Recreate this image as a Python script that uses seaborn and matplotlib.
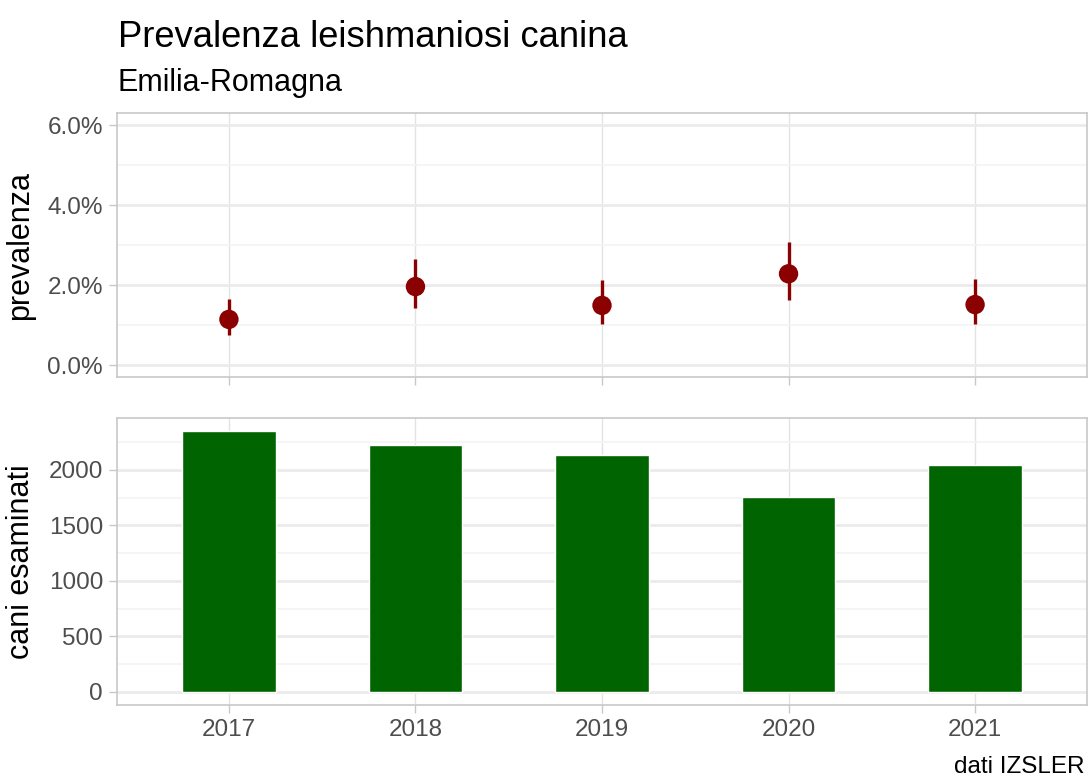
import matplotlib
matplotlib.use("Agg")
import matplotlib.pyplot as plt
import matplotlib.ticker as mticker
import seaborn as sns
import pandas as pd
import numpy as np

years = ["2017", "2018", "2019", "2020", "2021"]
prevalence = [0.0114, 0.0196, 0.0149, 0.0228, 0.0151]
prev_low = [0.0074, 0.0143, 0.0102, 0.0162, 0.0102]
prev_high = [0.0165, 0.0264, 0.0213, 0.0308, 0.0214]
examined = [2350, 2222, 2130, 1756, 2044]

df = pd.DataFrame({"anno": years, "prev": prevalence, "lo": prev_low,
                   "hi": prev_high, "n": examined})

sns.set_theme(style="whitegrid")
plt.rcParams["font.family"] = ["Liberation Sans", "DejaVu Sans"]

W, H = 1088, 778
fig = plt.figure(figsize=(W / 100, H / 100), dpi=100)

def rect(l, t, r, b):
    return [l / W, 1 - b / H, (r - l) / W, (b - t) / H]

ax1 = fig.add_axes(rect(117, 113, 1087, 377))
ax2 = fig.add_axes(rect(117, 418, 1087, 705))

grid_major = "#EBEBEB"
border = "#C8C8C8"
tickc = "#4D4D4D"
TICK_FS = 17.5
AXT_FS = 22

for ax in (ax1, ax2):
    ax.set_facecolor("white")
    for s in ax.spines.values():
        s.set_color(border)
        s.set_linewidth(1.2)

# Top panel
xpos = np.arange(len(years))
ax1.vlines(xpos, df["lo"], df["hi"], color="#8B0000", linewidth=2.4, zorder=3)
sns.scatterplot(data=df, x=xpos, y="prev", ax=ax1, color="#8B0000", s=195,
                edgecolor="none", zorder=4, legend=False)
ax1.set_xlim(-0.6, 4.6)
ax1.set_ylim(-0.003, 0.063)
ax1.set_yticks([0, 0.02, 0.04, 0.06])
ax1.yaxis.set_major_formatter(mticker.FuncFormatter(lambda v, p: f"{v*100:.1f}%"))
ax1.set_yticks([0.01, 0.03, 0.05], minor=True)
ax1.set_xticks(xpos)
ax1.set_xticklabels([])
ax1.set_ylabel("prevalenza", fontsize=AXT_FS, color="black", labelpad=9)
ax1.set_xlabel("")

# Bottom panel
sns.barplot(data=df, x="anno", y="n", ax=ax2, color="#006400", saturation=1,
            width=0.5, zorder=3)
ax2.set_xlim(-0.6, 4.6)
ax2.set_ylim(-117.5, 2467.5)
ax2.set_yticks([0, 500, 1000, 1500, 2000])
ax2.set_yticks([250, 750, 1250, 1750, 2250], minor=True)
ax2.set_ylabel("cani esaminati", fontsize=AXT_FS, color="black", labelpad=9)
ax2.set_xlabel("")

for ax in (ax1, ax2):
    ax.grid(which="major", axis="y", color=grid_major, linewidth=2.0, zorder=0)
    ax.grid(which="minor", axis="y", color="#F4F4F4", linewidth=1.2, zorder=0)
    ax.grid(which="major", axis="x", color="#E3E3E3", linewidth=1.0, zorder=0)
    ax.set_axisbelow(True)
    ax.tick_params(axis="both", which="major", length=6, width=1.0, color=border,
                   labelsize=TICK_FS, labelcolor=tickc, pad=4, left=True, bottom=True)
    ax.tick_params(axis="both", which="minor", length=0)

fig.text(118 / W, 1 - 47 / H, "Prevalenza leishmaniosi canina", fontsize=26.2,
         color="black", ha="left", va="baseline")
fig.text(118 / W, 1 - 91 / H, "Emilia-Romagna", fontsize=22,
         color="black", ha="left", va="baseline")
fig.text(1085 / W, 1 - 773 / H, "dati IZSLER", fontsize=17.5,
         color="black", ha="right", va="baseline")

fig.savefig("out.png", dpi=100)
